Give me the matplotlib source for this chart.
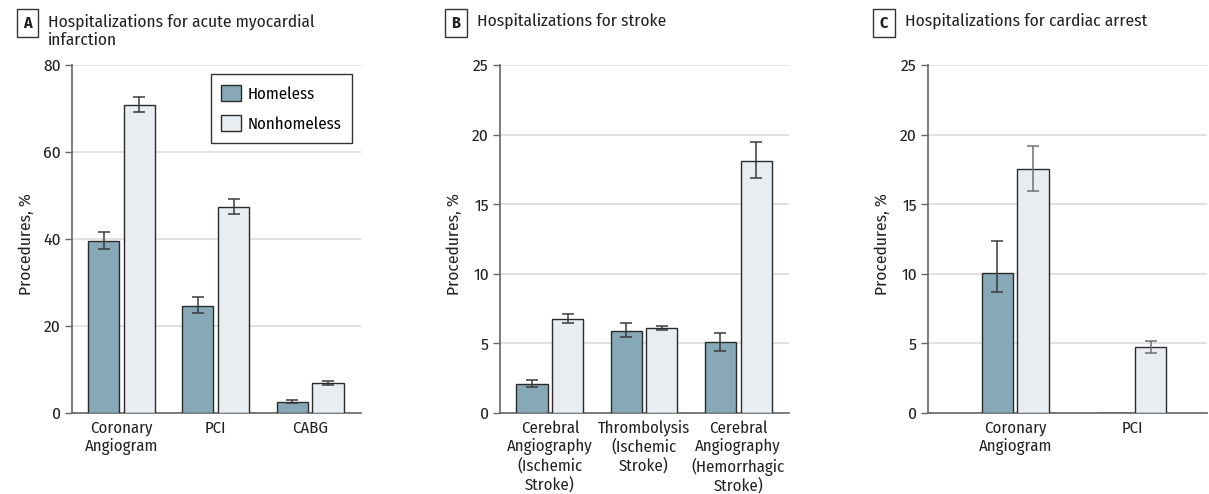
import matplotlib
matplotlib.use("Agg")
import matplotlib.pyplot as plt
from matplotlib.patches import Patch
import numpy as np

plt.rcParams['font.family'] = ['Fira Sans Condensed', 'PT Sans Narrow', 'Archivo Narrow', 'Liberation Sans', 'DejaVu Sans']

# Panel A
cats_a = ["Coronary\nAngiogram", "PCI", "CABG"]
home_a = [39.5, 24.7, 2.6]
home_a_lo = [37.8, 22.9, 2.3]
home_a_hi = [41.5, 26.7, 2.9]
non_a = [70.8, 47.3, 6.9]
non_a_lo = [69.3, 45.7, 6.4]
non_a_hi = [72.7, 49.2, 7.4]

# Panel B
cats_b = ["Cerebral\nAngiography\n(Ischemic\nStroke)", "Thrombolysis\n(Ischemic\nStroke)",
          "Cerebral\nAngiography\n(Hemorrhagic\nStroke)"]
home_b = [2.1, 5.9, 5.1]
home_b_lo = [1.87, 5.44, 4.45]
home_b_hi = [2.37, 6.44, 5.77]
non_b = [6.78, 6.1, 18.13]
non_b_lo = [6.47, 5.94, 16.86]
non_b_hi = [7.1, 6.27, 19.47]

# Panel C
cats_c = ["Coronary\nAngiogram", "PCI"]
home_c = [10.08, 0.0]
home_c_lo = [8.67, None]
home_c_hi = [12.38, None]
non_c = [17.55, 4.72]
non_c_lo = [15.97, 4.31]
non_c_hi = [19.16, 5.17]

HOME = "#86a8b7"
NON = "#e8edf1"
EDGE = "#2b2b2b"
GRID = "#dcdcdc"
SPINE = "#666666"

fig = plt.figure(figsize=(12.09, 4.94), dpi=100)

def panel(rect, cats, hv, hlo, hhi, nv, nlo, nhi, ymax, yticks, xlim, width, off,
          letter, title, box_x, title_x, non_ecolor="#3a3a3a"):
    ax = fig.add_axes(rect)
    x = np.arange(len(cats))
    ax.bar(x - off, hv, width, color=HOME, edgecolor=EDGE, linewidth=1.0, zorder=3, label="Homeless")
    ax.bar(x + off, nv, width, color=NON, edgecolor=EDGE, linewidth=1.0, zorder=3, label="Nonhomeless")
    for i in range(len(cats)):
        if hlo[i] is not None:
            ax.errorbar(x[i] - off, hv[i], yerr=[[hv[i] - hlo[i]], [hhi[i] - hv[i]]],
                        fmt='none', ecolor="#3a3a3a", elinewidth=1.1, capsize=4.5, capthick=1.1, zorder=4)
        if nlo[i] is not None:
            ax.errorbar(x[i] + off, nv[i], yerr=[[nv[i] - nlo[i]], [nhi[i] - nv[i]]],
                        fmt='none', ecolor=non_ecolor, elinewidth=1.1, capsize=4.5, capthick=1.1, zorder=4)
    ax.set_ylim(0, ymax)
    ax.set_xlim(*xlim)
    ax.set_yticks(yticks)
    ax.set_yticklabels([str(t) for t in yticks], fontsize=12.5, color="#222222")
    ax.set_xticks(x)
    ax.set_xticklabels(cats, fontsize=12, color="#222222", linespacing=1.17)
    ax.tick_params(axis='x', length=0, pad=5)
    ax.tick_params(axis='y', length=5, width=1, color=SPINE, pad=3)
    ax.yaxis.grid(True, color=GRID, linewidth=1.2, zorder=0)
    ax.set_axisbelow(True)
    for s in ['top', 'right']:
        ax.spines[s].set_visible(False)
    for s in ['left', 'bottom']:
        ax.spines[s].set_color(SPINE)
        ax.spines[s].set_linewidth(1.2)
    ax.set_ylabel("Procedures, %", fontsize=12.5, color="#222222")
    ax.yaxis.set_label_coords(-38 / (rect[2] * 1209), 0.485)
    fig.text(box_x, 1 - 23 / 494, letter, fontsize=11.5, fontweight='bold', ha='center', va='center',
             color="#222222",
             bbox=dict(boxstyle='square,pad=0.4', facecolor='white', edgecolor='#333333', linewidth=1))
    fig.text(title_x, 1 - 13 / 494, title, fontsize=12.5, ha='left', va='top', color="#222222",
             linespacing=1.2)
    return ax

bot = 1 - 413 / 494
hgt = (413 - 65) / 494

axA = panel([72 / 1209, bot, (361 - 72) / 1209, hgt], cats_a, home_a, home_a_lo, home_a_hi,
            non_a, non_a_lo, non_a_hi, 80, [0, 20, 40, 60, 80], (-0.525, 2.54), 0.33, 0.19,
            "A", "Hospitalizations for acute myocardial\ninfarction", 27.5 / 1209, 48 / 1209)
axB = panel([500 / 1209, bot, (789 - 500) / 1209, hgt], cats_b, home_b, home_b_lo, home_b_hi,
            non_b, non_b_lo, non_b_hi, 25, [0, 5, 10, 15, 20, 25], (-0.53, 2.54), 0.33, 0.19,
            "B", "Hospitalizations for stroke", 456 / 1209, 477 / 1209)
axC = panel([928 / 1209, bot, (1207 - 928) / 1209, hgt], cats_c, home_c, home_c_lo, home_c_hi,
            non_c, non_c_lo, non_c_hi, 25, [0, 5, 10, 15, 20, 25], (-0.74, 1.63), 0.265, 0.152,
            "C", "Hospitalizations for cardiac arrest", 884 / 1209, 905 / 1209, non_ecolor="#707070")

handles = [Patch(facecolor=HOME, edgecolor=EDGE, linewidth=1), Patch(facecolor=NON, edgecolor=EDGE, linewidth=1)]
leg = axA.legend(handles, ["Homeless", "Nonhomeless"], loc='upper right', bbox_to_anchor=(0.969, 0.974),
                 borderaxespad=0, fontsize=12, frameon=True, fancybox=False, edgecolor='#333333',
                 framealpha=1, handlelength=1.15, handleheight=1.15, borderpad=0.65, labelspacing=0.75,
                 handletextpad=0.4)
leg.get_frame().set_linewidth(1)

fig.savefig("out.png", dpi=100)
